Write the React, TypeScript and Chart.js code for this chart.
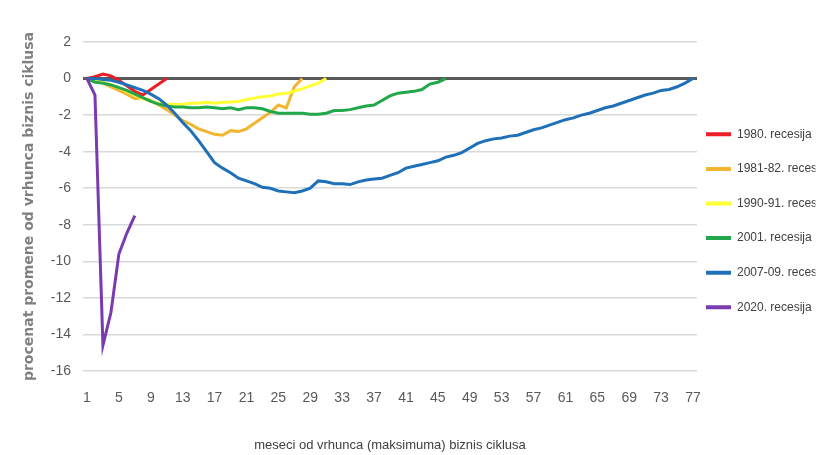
import React, { useEffect, useRef } from 'react';
import { Chart, registerables } from 'chart.js';

Chart.register(...registerables);

// Months since business-cycle peak (categories)
const months = Array.from({ length: 77 }, (_, i) => String(i + 1));

// Percent change from peak, per recession
const rec1980 = [0, 0.1, 0.25, 0.15, -0.1, -0.4, -0.7, -0.9, -0.6, -0.3, 0];
const rec1981 = [0, -0.1, -0.25, -0.45, -0.65, -0.85, -1.1, -1.05, -1.2, -1.45, -1.7, -2.0, -2.3, -2.5, -2.75, -2.9, -3.05, -3.1, -2.85, -2.9, -2.75, -2.45, -2.15, -1.85, -1.45, -1.6, -0.45, 0];
const rec1990 = [0, -0.1, -0.2, -0.35, -0.5, -0.7, -0.9, -1.1, -1.25, -1.35, -1.4, -1.4, -1.4, -1.35, -1.35, -1.3, -1.35, -1.3, -1.28, -1.25, -1.15, -1.07, -1.0, -0.95, -0.85, -0.8, -0.7, -0.55, -0.4, -0.25, 0];
const rec2001 = [0, -0.2, -0.25, -0.35, -0.5, -0.65, -0.85, -1.05, -1.25, -1.4, -1.5, -1.55, -1.55, -1.6, -1.6, -1.55, -1.6, -1.65, -1.6, -1.7, -1.6, -1.6, -1.65, -1.8, -1.9, -1.9, -1.9, -1.9, -1.95, -1.95, -1.9, -1.75, -1.75, -1.7, -1.6, -1.5, -1.45, -1.2, -0.95, -0.8, -0.75, -0.7, -0.6, -0.3, -0.2, 0];
const rec2007 = [0, 0, -0.05, -0.1, -0.2, -0.35, -0.5, -0.65, -0.85, -1.1, -1.45, -1.9, -2.4, -2.85, -3.4, -4.0, -4.6, -4.9, -5.15, -5.45, -5.6, -5.75, -5.95, -6.0, -6.15, -6.2, -6.25, -6.15, -6.0, -5.6, -5.65, -5.75, -5.75, -5.8, -5.65, -5.55, -5.5, -5.45, -5.3, -5.15, -4.9, -4.8, -4.7, -4.6, -4.5, -4.3, -4.2, -4.05, -3.8, -3.55, -3.4, -3.3, -3.25, -3.15, -3.1, -2.95, -2.8, -2.7, -2.55, -2.4, -2.25, -2.15, -2.0, -1.9, -1.75, -1.6, -1.5, -1.35, -1.2, -1.05, -0.9, -0.8, -0.65, -0.6, -0.45, -0.25, 0];
const rec2020 = [0, -0.9, -14.6, -12.8, -9.6, -8.45, -7.5];

const seriesNames = ['1980. recesija', '1981-82. recesija', '1990-91. recesija', '2001. recesija', '2007-09. recesija', '2020. recesija'];
const seriesValues = [rec1980, rec1981, rec1990, rec2001, rec2007, rec2020];
const seriesColors = ['#ee1c25', '#f2b530', '#ffff33', '#22a74b', '#1f70b8', '#7a3ab0'];

const yTitle = 'procenat promene od vrhunca biznis ciklusa';
const xTitle = 'meseci od vrhunca (maksimuma) biznis ciklusa';

const SANS = "'Liberation Sans', Arial, sans-serif";

const legendPlacement = {
  id: 'legendPlacement',
  beforeLayout(chart: any) {
    const lg = chart.legend;
    if (lg && !lg.__patched) {
      const orig = lg.fit;
      lg.fit = function () {
        orig.call(this);
        this.width = 132;
      };
      lg.__patched = true;
    }
  },
  afterLayout(chart: any) {
    const lg = chart.legend;
    if (!lg) return;
    const pad = lg.options.labels.padding;
    const w = lg.width;
    lg.left = chart.chartArea.right + 9 - pad;
    lg.right = lg.left + w;
    lg.top -= 27.7;
    lg.bottom -= 27.7;
  },
};

export default function App() {
  const ref = useRef<HTMLCanvasElement | null>(null);

  useEffect(() => {
    if (!ref.current) return;
    const chart = new Chart(ref.current, {
      type: 'line',
      data: {
        labels: months,
        datasets: seriesValues.map((vals, i) => ({
          label: seriesNames[i],
          data: vals,
          borderColor: seriesColors[i],
          backgroundColor: seriesColors[i],
          borderWidth: 3,
          pointRadius: 0,
          tension: 0,
          fill: false,
          order: seriesValues.length - i,
        })),
      },
      options: {
        responsive: false,
        animation: false,
        layout: { padding: { left: 0, right: 0, top: 42, bottom: 0 } },
        plugins: {
          tooltip: { enabled: false },
          legend: {
            position: 'right',
            labels: {
              boxWidth: 25,
              boxHeight: 4,
              padding: 22.6,
              color: '#404040',
              font: { family: SANS, size: 12 },
              sort: (a: any, b: any) => a.datasetIndex - b.datasetIndex,
              generateLabels: (c: any) =>
                Chart.defaults.plugins.legend.labels
                  .generateLabels(c)
                  .map((l: any) => ({ ...l, lineWidth: 0, fillStyle: l.strokeStyle })),
            },
          },
        },
        scales: {
          x: {
            type: 'category',
            offset: true,
            grid: { display: false },
            border: { display: false },
            ticks: {
              autoSkip: false,
              maxRotation: 0,
              padding: 11,
              color: '#595959',
              font: { family: SANS, size: 14 },
              callback: (_v: any, idx: number) => (idx % 4 === 0 ? months[idx] : ''),
            },
            title: {
              display: true,
              text: xTitle,
              color: '#404040',
              font: { family: SANS, size: 13 },
              padding: { top: 0, bottom: 2 },
            },
            afterFit: (s: any) => {
              s.height = 84;
            },
          },
          y: {
            min: -16,
            max: 2,
            border: { display: false },
            grid: {
              drawTicks: false,
              color: (ctx: any) => (ctx.tick && ctx.tick.value === 0 ? '#595959' : '#d9d9d9'),
              lineWidth: (ctx: any) => (ctx.tick && ctx.tick.value === 0 ? 3 : 1.5),
            },
            ticks: {
              stepSize: 2,
              padding: 12,
              color: '#595959',
              font: { family: SANS, size: 14 },
            },
            title: {
              display: true,
              text: yTitle,
              color: '#7f7f7f',
              font: { family: "'DejaVu Sans', sans-serif", size: 14, weight: 'bold' },
              padding: { top: 21, bottom: 0 },
            },
            afterFit: (s: any) => {
              s.width = 83;
            },
          },
        },
      },
      plugins: [legendPlacement],
    } as any);
    return () => chart.destroy();
  }, []);

  return (
    <div style={{ position: 'absolute', left: 0, top: 0, width: 829, height: 455, background: '#fff' }}>
      <canvas ref={ref} width={829} height={455} />
    </div>
  );
}
